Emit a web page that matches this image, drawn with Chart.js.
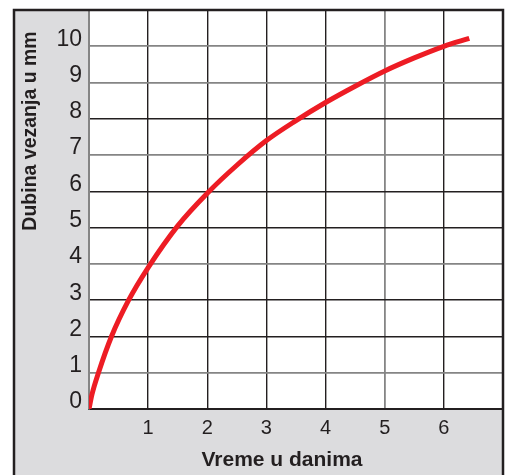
<!DOCTYPE html>
<html>
<head>
<meta charset="utf-8">
<script src="https://cdn.jsdelivr.net/npm/chart.js@4/dist/chart.umd.min.js"></script>
<style>
  html, body { margin: 0; padding: 0; background: #ffffff; }
  #wrap { width: 506px; height: 475px; }
</style>
</head>
<body>
<div id="wrap"><canvas id="c" width="506" height="475"></canvas></div>
<script>
// Data
const days = [0, 0.05, 0.16, 0.38, 0.67, 1, 1.5, 2, 2.5, 3, 3.5, 4, 4.5, 5, 5.5, 6, 6.43];
const depthMm = [0, 0.4, 1, 2, 3, 3.9, 5.05, 5.95, 6.72, 7.4, 7.95, 8.45, 8.9, 9.32, 9.68, 10.0, 10.22];
const xTickLabels = ['1', '2', '3', '4', '5', '6'];
const yTickLabels = ['0', '1', '2', '3', '4', '5', '6', '7', '8', '9', '10'];
const xTitle = 'Vreme u danima';
const yTitle = 'Dubina vezanja u mm';

const DARK = '#231f20';
const GRAY = '#858585';
const FONT = '"Liberation Sans", Arial, Helvetica, sans-serif';
const darkX = [1, 2, 3, 4, 6, 7];
const darkY = [0, 2, 3, 5, 6, 8, 11];

function noPad(s) {
  s.paddingLeft = 0; s.paddingRight = 0; s.paddingTop = 0; s.paddingBottom = 0;
}

const framePlugin = {
  id: 'frame',
  beforeDraw(chart) {
    const ctx = chart.ctx;
    const a = chart.chartArea;
    ctx.save();
    ctx.fillStyle = '#ffffff';
    ctx.fillRect(0, 0, chart.width, chart.height);
    ctx.fillStyle = '#dcdcde';
    ctx.fillRect(13, 9, a.right - 13, chart.height - 9);
    ctx.fillStyle = '#ffffff';
    ctx.fillRect(a.left, a.top, a.right - a.left, a.bottom - a.top);
    ctx.restore();
  },
  afterDraw(chart) {
    const ctx = chart.ctx;
    const a = chart.chartArea;
    ctx.save();
    ctx.strokeStyle = DARK;
    ctx.lineWidth = 2.5;
    ctx.beginPath();
    ctx.moveTo(14, chart.height);
    ctx.lineTo(14, 10);
    ctx.lineTo(a.right, 10);
    ctx.lineTo(a.right, chart.height);
    ctx.stroke();
    // axis titles
    ctx.fillStyle = DARK;
    ctx.textAlign = 'center';
    ctx.textBaseline = 'middle';
    ctx.font = 'bold 21px ' + FONT;
    ctx.fillText(xTitle, (a.left + a.right) / 2 - 14, 460);
    ctx.translate(31, 131);
    ctx.rotate(-Math.PI / 2);
    ctx.font = 'bold 19.5px ' + FONT;
    ctx.fillText(yTitle, 0, 0);
    ctx.restore();
  }
};

new Chart(document.getElementById('c'), {
  type: 'line',
  data: {
    datasets: [{
      data: days.map((d, i) => ({ x: d, y: depthMm[i] })),
      borderColor: '#ed1c24',
      borderWidth: 5,
      pointRadius: 0,
      fill: false,
      cubicInterpolationMode: 'monotone',
      borderCapStyle: 'butt'
    }]
  },
  options: {
    responsive: false,
    animation: false,
    events: [],
    layout: { padding: { left: 0, top: 10, right: 3, bottom: 0 } },
    plugins: { legend: { display: false }, tooltip: { enabled: false } },
    scales: {
      x: {
        type: 'linear',
        min: 0, max: 7,
        afterFit(s) { s.height = 66; noPad(s); },
        ticks: {
          stepSize: 1,
          padding: 7,
          maxRotation: 0,
          autoSkip: false,
          color: DARK,
          font: { family: FONT, size: 20 },
          callback: (v) => xTickLabels.includes(String(v)) ? String(v) : ''
        },
        grid: {
          drawTicks: false,
          color: (c) => darkX.includes(c.tick.value) ? DARK : GRAY,
          lineWidth: (c) => darkX.includes(c.tick.value) ? 1.4 : 1.8
        },
        border: { display: true, color: DARK, width: 2 }
      },
      y: {
        type: 'linear',
        min: 0, max: 11,
        afterFit(s) { s.width = 89; noPad(s); },
        ticks: {
          stepSize: 1,
          padding: 7,
          labelOffset: -7,
          autoSkip: false,
          color: DARK,
          font: { family: FONT, size: 23 },
          callback: (v) => yTickLabels.includes(String(v)) ? String(v) : ''
        },
        grid: {
          drawTicks: false,
          color: (c) => darkY.includes(c.tick.value) ? DARK : GRAY,
          lineWidth: (c) => darkY.includes(c.tick.value) ? 1.4 : 1.8
        },
        border: { display: true, color: GRAY, width: 2 }
      }
    }
  },
  plugins: [framePlugin]
});
</script>
</body>
</html>
